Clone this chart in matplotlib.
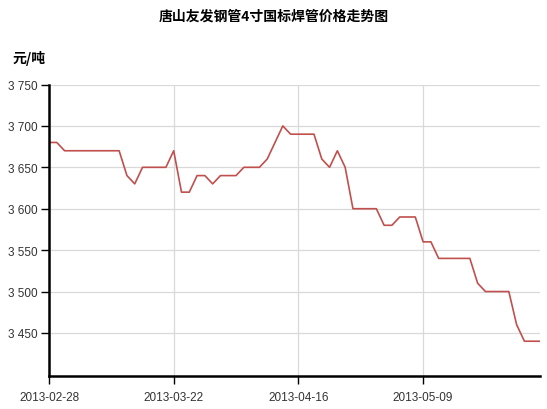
import matplotlib
matplotlib.use("Agg")
import matplotlib.pyplot as plt
from matplotlib.ticker import FuncFormatter

plt.rcParams['font.family'] = ['Liberation Sans', 'Noto Sans CJK SC', 'DejaVu Sans']

title = "唐山友发钢管4寸国标焊管价格走势图"
y_unit = "元/吨"

prices = [3680, 3680, 3670, 3670, 3670, 3670, 3670, 3670, 3670, 3670,
          3640, 3630, 3650, 3650, 3650, 3650, 3670, 3620, 3620, 3640,
          3640, 3630, 3640, 3640, 3640, 3650, 3650, 3650, 3660, 3680,
          3700, 3690, 3690, 3690, 3690, 3660, 3650, 3670, 3650, 3600,
          3600, 3600, 3600, 3580, 3580, 3590, 3590, 3590, 3560, 3560,
          3540, 3540, 3540, 3540, 3540, 3510, 3500, 3500, 3500, 3500,
          3460, 3440, 3440, 3440]
x_idx = list(range(len(prices)))

tick_idx = [0, 16, 32, 48]
tick_labels = ["2013-02-28", "2013-03-22", "2013-04-16", "2013-05-09"]
y_ticks = [3450, 3500, 3550, 3600, 3650, 3700, 3750]

W, H = 547, 410
fig = plt.figure(figsize=(W / 100, H / 100), dpi=100)
left, right, top, bottom = 49, 540, 85.5, 377
ax = fig.add_axes([left / W, 1 - bottom / H, (right - left) / W, (bottom - top) / H])

ax.plot(x_idx, prices, color='#c0504d', lw=1.2, solid_joinstyle='round')

ax.set_xlim(0, len(prices) - 1)
ax.set_ylim(3398, 3750)
ax.set_yticks(y_ticks)
ax.yaxis.set_major_formatter(FuncFormatter(lambda v, p: f"{int(v):,}".replace(",", " ")))
ax.set_xticks(tick_idx)
ax.set_xticklabels(tick_labels)

ax.grid(True, color='#d9d9d9', lw=0.9)
ax.set_axisbelow(True)
for s in ['top', 'right']:
    ax.spines[s].set_visible(False)
for s in ['left', 'bottom']:
    ax.spines[s].set_linewidth(1.8)
    ax.spines[s].set_color('black')
ax.tick_params(axis='both', direction='out', length=6, width=1.0, color='black',
               labelsize=8.5, labelcolor='#333333')
ax.tick_params(axis='y', pad=2)
ax.tick_params(axis='x', pad=5)

fig.text(0.5, 1 - 17 / H, title, ha='center', va='center', fontsize=10,
         fontweight='bold', family=['Noto Sans CJK SC', 'DejaVu Sans'])
fig.text(13 / W, 1 - 59 / H, y_unit, ha='left', va='center', fontsize=10,
         fontweight='bold', family=['Noto Sans CJK SC', 'DejaVu Sans'])

fig.savefig("out.png", dpi=100)
